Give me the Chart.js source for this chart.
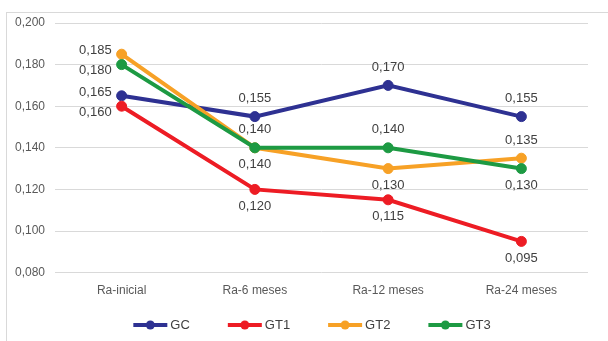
<!DOCTYPE html>
<html>
<head>
<meta charset="utf-8">
<style>
  html, body { margin: 0; padding: 0; background: #ffffff; }
  #wrap { width: 608px; height: 341px; }
</style>
<script src="https://cdn.jsdelivr.net/npm/chart.js@4/dist/chart.umd.min.js"></script>
</head>
<body>
<div id="wrap"><canvas id="chart" width="608" height="341"></canvas></div>
<script>
// Surface roughness (Ra) per group over follow-up
const categories = ['Ra-inicial', 'Ra-6 meses', 'Ra-12 meses', 'Ra-24 meses'];
const seriesNames = ['GC', 'GT1', 'GT2', 'GT3'];
const gcValues  = [0.165, 0.155, 0.170, 0.155];
const gt1Values = [0.160, 0.120, 0.115, 0.095];
const gt2Values = [0.185, 0.140, 0.130, 0.135];
const gt3Values = [0.180, 0.140, 0.140, 0.130];
const yTicks = [0.080, 0.100, 0.120, 0.140, 0.160, 0.180, 0.200];

const seriesColors = ['#2E3192', '#ED1C24', '#F7A126', '#1D9A43'];
// where each value label sits relative to its point
const labelPlacement = [
  ['leftAbove', 'above', 'above', 'above'],
  ['leftBelow', 'below', 'below', 'below'],
  ['leftAbove', 'below', 'below', 'above'],
  ['leftBelow', 'above', 'above', 'below']
];

const fmt = v => v.toFixed(3).replace('.', ',');
const FONT = "'Liberation Sans', Arial, sans-serif";

const seriesValues = [gcValues, gt1Values, gt2Values, gt3Values];
const datasets = seriesNames.map((name, i) => ({
  label: name,
  data: seriesValues[i],
  borderColor: seriesColors[i],
  backgroundColor: seriesColors[i],
  borderWidth: 4,
  pointRadius: 5,
  pointHoverRadius: 5,
  pointBorderWidth: 1,
  pointStyle: 'circle',
  tension: 0,
  fill: false,
  // later series are painted over earlier ones
  order: seriesNames.length - 1 - i
}));

// light outer frame of the chart
const frame = {
  id: 'frame',
  beforeDraw(chart) {
    const ctx = chart.ctx;
    ctx.save();
    ctx.fillStyle = '#ffffff';
    ctx.fillRect(0, 0, chart.width, chart.height);
    ctx.strokeStyle = '#d9d9d9';
    ctx.lineWidth = 1;
    ctx.strokeRect(6.5, 12.5, chart.width + 20, chart.height + 20);
    ctx.restore();
  }
};

// value labels next to each point
const valueLabels = {
  id: 'valueLabels',
  afterDatasetsDraw(chart) {
    const ctx = chart.ctx;
    ctx.save();
    ctx.font = '13px ' + FONT;
    ctx.fillStyle = '#404040';
    ctx.textBaseline = 'middle';
    chart.data.datasets.forEach((ds, di) => {
      const meta = chart.getDatasetMeta(di);
      meta.data.forEach((pt, i) => {
        const where = labelPlacement[di][i];
        let x = pt.x, y = pt.y;
        if (where === 'above') { ctx.textAlign = 'center'; y -= 18; }
        else if (where === 'below') { ctx.textAlign = 'center'; y += 17; }
        else if (where === 'leftAbove') { ctx.textAlign = 'right'; x -= 10; y -= 3.5; }
        else { ctx.textAlign = 'right'; x -= 10; y += 6; }
        ctx.fillText(fmt(ds.data[i]), x, y);
      });
    });
    ctx.restore();
  }
};

// legend row: line-with-marker swatch followed by series name
const lineLegend = {
  id: 'lineLegend',
  afterDraw(chart) {
    const ctx = chart.ctx;
    const swatch = 34, gap = 3, spacing = 38, cy = 325;
    ctx.save();
    ctx.font = '13px ' + FONT;
    const widths = chart.data.datasets.map(ds => ctx.measureText(ds.label).width);
    const total = widths.reduce((a, w) => a + swatch + gap + w, 0) + spacing * (widths.length - 1);
    let x = 312 - total / 2;
    chart.data.datasets.forEach((ds, i) => {
      ctx.strokeStyle = ds.borderColor;
      ctx.fillStyle = ds.borderColor;
      ctx.lineWidth = 4;
      ctx.beginPath(); ctx.moveTo(x, cy); ctx.lineTo(x + swatch, cy); ctx.stroke();
      ctx.beginPath(); ctx.arc(x + swatch / 2, cy, 4.5, 0, Math.PI * 2); ctx.fill();
      ctx.fillStyle = '#404040';
      ctx.textAlign = 'left';
      ctx.textBaseline = 'middle';
      ctx.fillText(ds.label, x + swatch + gap, cy);
      x += swatch + gap + widths[i] + spacing;
    });
    ctx.restore();
  }
};

new Chart(document.getElementById('chart'), {
  type: 'line',
  data: { labels: categories, datasets },
  plugins: [frame, valueLabels, lineLegend],
  options: {
    responsive: false,
    animation: false,
    events: [],
    layout: { padding: { left: 6, right: 20, top: 23, bottom: 32 } },
    plugins: {
      tooltip: { enabled: false },
      legend: { display: false }
    },
    scales: {
      x: {
        offset: true,
        grid: { display: false, drawTicks: false },
        border: { display: false },
        ticks: { color: '#595959', font: { family: FONT, size: 12 }, padding: 11 }
      },
      y: {
        min: 0.08,
        max: 0.2,
        afterFit(s) { s.width = 49; },
        afterBuildTicks(s) { s.ticks = yTicks.map(v => ({ value: v })); },
        grid: { color: '#d9d9d9', lineWidth: 1, drawTicks: false },
        border: { display: false },
        ticks: {
          color: '#595959',
          font: { family: FONT, size: 12 },
          padding: 10,
          callback: v => fmt(v)
        }
      }
    }
  }
});
</script>
</body>
</html>
